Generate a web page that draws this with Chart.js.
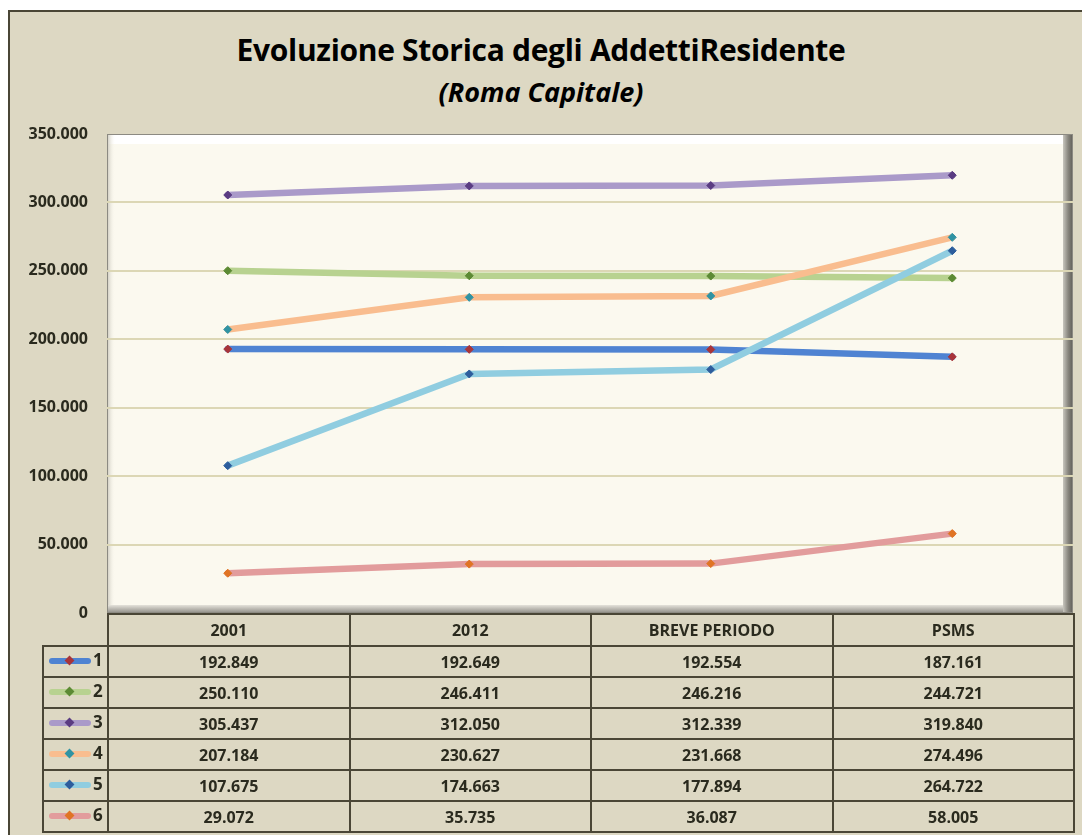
<!DOCTYPE html>
<html>
<head>
<meta charset="utf-8">
<script src="https://cdn.jsdelivr.net/npm/chart.js@4.4.1/dist/chart.umd.min.js"></script>
<style>
  body { margin: 0; background: #ffffff; width: 1082px; height: 835px; overflow: hidden; position: relative; }
  #frame { position: absolute; left: 8px; top: 10px; width: 1090px; height: 840px; background: #ddd8c3;
           border-left: 2px solid #4a4636; border-top: 2px solid #4a4636; box-sizing: border-box; }
  #chart { position: absolute; left: 0; top: 0; }
  .title { position: absolute; left: 0; width: 1082px; text-align: center; color: #000;
           font-family: "Open Sans", sans-serif; font-weight: bold; }
  #t1 { top: 29px; font-size: 30px; letter-spacing: -0.3px; }
  #t2 { top: 73px; font-size: 27px; font-style: italic; }
  #table { position: absolute; left: 42px; top: 613px; border-collapse: collapse;
           font-family: "Open Sans", sans-serif; font-weight: bold; font-size: 16px; color: #2a2a1e; }
  #table td { border: 2px solid #4a4636; text-align: center; padding: 0; height: 27px; box-sizing: border-box; }
  #table tr:first-child td.blank { border: none; border-bottom: 2px solid #4a4636; }
  #table td.key { width: 65px; text-align: left; position: relative; }
  .line { position: absolute; left: 5px; top: 11px; width: 42px; height: 6px; border-radius: 3px; }
  .mk { position: absolute; left: 22px; top: 10px; width: 7px; height: 7px; transform: rotate(45deg); }
  .num { position: absolute; left: 49px; top: 1px; font-size: 17px; }
</style>
</head>
<body>
<div id="frame"></div>
<div class="title" id="t1">Evoluzione Storica degli AddettiResidente</div>
<div class="title" id="t2">(Roma Capitale)</div>
<canvas id="chart" width="1082" height="835"></canvas>
<table id="table"></table>
<script>
const categories = ['2001', '2012', 'BREVE PERIODO', 'PSMS'];
const seriesNames = ['1', '2', '3', '4', '5', '6'];
const serie1 = [192849, 192649, 192554, 187161];
const serie2 = [250110, 246411, 246216, 244721];
const serie3 = [305437, 312050, 312339, 319840];
const serie4 = [207184, 230627, 231668, 274496];
const serie5 = [107675, 174663, 177894, 264722];
const serie6 = [29072, 35735, 36087, 58005];
const yTicks = [0, 50000, 100000, 150000, 200000, 250000, 300000, 350000];

const allSeries = [serie1, serie2, serie3, serie4, serie5, serie6];
const lineColors = ['#4f83d2', '#b8d290', '#aa9ac9', '#f9bd8f', '#90cde0', '#e29c9c'];
const markerColors = ['#a8343a', '#5c8a34', '#5a3c82', '#2f93a3', '#2d5d9c', '#e07424'];

// formato italiano: 350.000
function fmt(v) {
    return String(v).replace(/\B(?=(\d{3})+(?!\d))/g, '.');
}

// sfondo area del grafico con effetto rilievo
const plotBg = {
    id: 'plotBg',
    beforeDraw(chart) {
        const {ctx, chartArea: a} = chart;
        ctx.save();
        ctx.fillStyle = '#fbf9ef';
        ctx.fillRect(a.left, a.top, a.right - a.left, a.bottom - a.top);
        // banda bianca in alto
        ctx.fillStyle = '#ffffff';
        ctx.fillRect(a.left, a.top, a.right - a.left, 10);
        // ombra sinistra
        let g = ctx.createLinearGradient(a.left, 0, a.left + 8, 0);
        g.addColorStop(0, '#c9c6bb');
        g.addColorStop(1, 'rgba(251,249,239,0)');
        ctx.fillStyle = g;
        ctx.fillRect(a.left, a.top, 8, a.bottom - a.top);
        // bordo destro scuro
        g = ctx.createLinearGradient(a.right - 10, 0, a.right, 0);
        g.addColorStop(0, '#c8c6be');
        g.addColorStop(0.5, '#8a8880');
        g.addColorStop(1, '#5e5c56');
        ctx.fillStyle = g;
        ctx.fillRect(a.right - 10, a.top, 10, a.bottom - a.top);
        // bordo inferiore
        g = ctx.createLinearGradient(0, a.bottom - 8, 0, a.bottom);
        g.addColorStop(0, '#e4e2da');
        g.addColorStop(1, '#8f8d86');
        ctx.fillStyle = g;
        ctx.fillRect(a.left, a.bottom - 8, a.right - a.left - 10, 8);
        ctx.strokeStyle = '#8c8a82';
        ctx.lineWidth = 1;
        ctx.strokeRect(a.left + 0.5, a.top + 0.5, a.right - a.left - 1, a.bottom - a.top - 1);
        ctx.restore();
    }
};

const datasets = allSeries.map((data, i) => ({
    label: seriesNames[i],
    data: data,
    borderColor: lineColors[i],
    backgroundColor: markerColors[i],
    pointBackgroundColor: markerColors[i],
    pointBorderColor: markerColors[i],
    pointStyle: 'rectRot',
    pointRadius: 4,
    pointBorderWidth: 1,
    borderWidth: 6.5,
    borderCapStyle: 'round',
    tension: 0,
    order: -i
}));

new Chart(document.getElementById('chart'), {
    type: 'line',
    data: { labels: categories, datasets: datasets },
    options: {
        responsive: false,
        animation: false,
        layout: { padding: { top: 134, right: 9, bottom: 222, left: 0 } },
        plugins: { legend: { display: false }, title: { display: false }, tooltip: { enabled: false } },
        scales: {
            x: { display: false, offset: true },
            y: {
                min: 0,
                max: 350000,
                afterFit(scale) { scale.width = 107; },
                afterBuildTicks(scale) { scale.ticks = yTicks.map(v => ({value: v})); },
                border: { display: false },
                grid: {
                    drawTicks: false,
                    lineWidth: 2,
                    color: (c) => (c.tick && (c.tick.value === 0 || c.tick.value === 350000)) ? 'rgba(0,0,0,0)' : '#dcd7b5'
                },
                ticks: {
                    padding: 19,
                    color: '#2a2a1e',
                    font: { family: 'Open Sans', weight: 'bold', size: 16 },
                    callback: (v) => fmt(v)
                }
            }
        }
    },
    plugins: [plotBg]
});

// tabella dati
const table = document.getElementById('table');
let html = '<tr><td class="blank" style="height:32px"></td>';
categories.forEach(c => { html += '<td style="width:241.5px;height:32px">' + c + '</td>'; });
html += '</tr>';
allSeries.forEach((data, i) => {
    html += '<tr><td class="key" style="height:31px"><div class="line" style="background:' + lineColors[i] + '"></div>' +
        '<div class="mk" style="background:' + markerColors[i] + '"></div><span class="num">' + seriesNames[i] + '</span></td>';
    data.forEach(v => { html += '<td style="height:31px">' + fmt(v) + '</td>'; });
    html += '</tr>';
});
table.innerHTML = html;
</script>
</body>
</html>
